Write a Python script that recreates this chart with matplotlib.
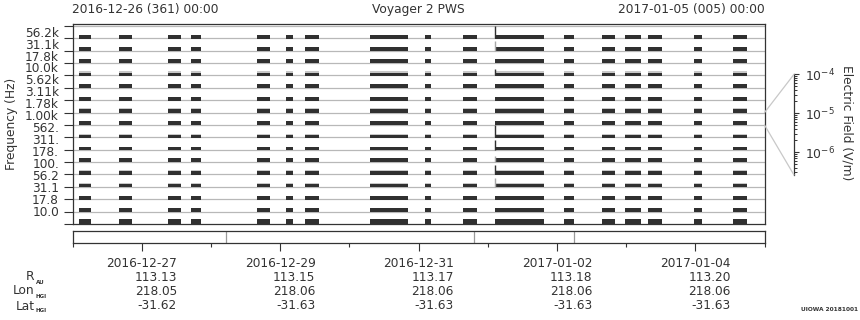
# Voyager 2 PWS survey plot, 2016-12-26 .. 2017-01-05
import numpy as np
import pandas as pd
import matplotlib
matplotlib.use("Agg")
import matplotlib.pyplot as plt
import matplotlib.dates as mdates
from matplotlib.patches import ConnectionPatch
from matplotlib.ticker import NullFormatter

# channel labels, top to bottom
freq_labels = ["56.2k", "31.1k", "17.8k", "10.0k", "5.62k", "3.11k", "1.78k", "1.00k",
               "562.", "311.", "178.", "100.", "56.2", "31.1", "17.8", "10.0"]

# data coverage intervals (UT)
seg_start = ["2016-12-26 02:15", "2016-12-26 16:08", "2016-12-27 09:07", "2016-12-27 17:05",
             "2016-12-28 15:59", "2016-12-29 02:02", "2016-12-29 08:38", "2016-12-30 07:10",
             "2016-12-31 02:15", "2016-12-31 15:26", "2017-01-01 02:31", "2017-01-02 02:28",
             "2017-01-02 15:39", "2017-01-02 23:38", "2017-01-03 07:36", "2017-01-03 23:34",
             "2017-01-04 13:05"]
seg_end = ["2016-12-26 06:24", "2016-12-26 20:38", "2016-12-27 13:38", "2016-12-27 20:34",
           "2016-12-28 20:30", "2016-12-29 04:28", "2016-12-29 13:31", "2016-12-30 20:21",
           "2016-12-31 04:21", "2016-12-31 20:17", "2017-01-01 19:31", "2017-01-02 05:56",
           "2017-01-02 20:10", "2017-01-03 05:11", "2017-01-03 12:27", "2017-01-04 02:21",
           "2017-01-04 17:56"]

# trace level per channel, as a fraction of the channel band (log E field)
level = [0.30, 0.30, 0.30, 0.24, 0.30, 0.30, 0.30, 0.32,
         0.16, 0.25, 0.30, 0.27, 0.25, 0.30, 0.30, 0.43]
# spiky, light part above the trace
fuzz = [0, 0, 0, 0.33, 0, 0, 0.38, 0, 0.30, 0, 0, 0.35, 0.30, 0, 0, 0]

# short burst at the start of the 2017-01-01 pass
burst_time = "2017-01-01 02:31"
burst_level = [1.0, 0.75, 0, 0.55, 0, 0, 0, 0, 1.0, 0.75, 0.5, 0.75, 0.7, 0, 0, 0]
burst_dark = [1, 0, 0, 1, 0, 0, 0, 0, 1, 1, 0, 1, 0, 0, 0, 0]

# instrument mode changes
mode_changes = ["2016-12-28 05:14", "2016-12-31 19:15", "2017-01-02 05:56"]

# ephemeris
eph_dates = ["2016-12-27", "2016-12-29", "2016-12-31", "2017-01-02", "2017-01-04"]
r_au = [113.13, 113.15, 113.17, 113.18, 113.20]
lon_hgi = [218.05, 218.06, 218.06, 218.06, 218.06]
lat_hgi = [-31.62, -31.63, -31.63, -31.63, -31.63]


def dnum(strings):
    return mdates.date2num(pd.to_datetime(strings).to_numpy())


txt = "#333333"
dark = "#303030"
W, H = 860, 320

t0 = mdates.date2num(pd.Timestamp("2016-12-26"))
t1 = mdates.date2num(pd.Timestamp("2017-01-05"))

fig = plt.figure(figsize=(8.6, 3.2), dpi=100)

# main panel
ax = fig.add_axes([72.5 / W, 1 - 224 / H, 692 / W, 200.5 / H])
nch = len(freq_labels)
ax.set_xlim(t0, t1)
ax.set_ylim(0, nch + 0.2)
ax.hlines(np.arange(1, nch + 1), t0, t1, color="#b8b8b8", lw=0.9, zorder=1)

starts = dnum(seg_start)
ends = dnum(seg_end)
spans = list(zip(starts, ends - starts))
for k in range(nch):
    base = nch - 1 - k
    if fuzz[k]:
        ax.broken_barh(spans, (base, fuzz[k]), facecolor="#c8c8c8", edgecolor="none", zorder=2)
    ax.broken_barh(spans, (base - 0.03, level[k] + 0.03), facecolor=dark,
                   edgecolor="none", zorder=3)

bt = dnum([burst_time])[0]
for k in range(nch):
    if burst_level[k]:
        base = nch - 1 - k
        ax.vlines(bt, base, base + burst_level[k], color=dark if burst_dark[k] else "#a8a8a8",
                  lw=1.0, zorder=4)

ax.set_xticks([])
ax.set_yticks(np.arange(0, nch + 1), minor=True)
lab_y = nch - 0.46 - 0.964 * np.arange(nch)
ax.set_yticks(lab_y, labels=freq_labels)
ax.tick_params(axis="y", which="major", length=0, pad=9.7, labelsize=8.7, labelcolor=txt)
ax.tick_params(axis="y", which="minor", length=6.5, width=0.8, color=txt)
for s in ax.spines.values():
    s.set_color(txt)
    s.set_linewidth(0.9)

# mode strip with ephemeris axis
sax = fig.add_axes([72.5 / W, 1 - 242.7 / H, 692 / W, 11.7 / H])
sax.set_xlim(t0, t1)
sax.set_ylim(0, 1)
sax.set_yticks([])
sax.vlines(dnum(mode_changes), 0, 1, color="#999999", lw=0.9)
labels = [f"{d}\n{r:.2f}\n{lo:.2f}\n{la:.2f}"
          for d, r, lo, la in zip(eph_dates, r_au, lon_hgi, lat_hgi)]
sax.set_xticks(np.arange(t0, t1 + 0.5, 2), minor=True)
sax.tick_params(axis="x", which="major", length=5.8, width=0.8, color=txt, pad=4.3,
                labelsize=8.7, labelcolor=txt)
sax.tick_params(axis="x", which="minor", length=2.9, width=0.8, color=txt)
sax.set_xticks(dnum(eph_dates), labels=labels, multialignment="right", linespacing=1.12)
for s in sax.spines.values():
    s.set_color(txt)
    s.set_linewidth(0.9)

# electric field scale for one channel
cax = fig.add_axes([794 / W, 1 - 175 / H, 0.0005, 100.7 / H])
cax.set_yscale("log")
cax.set_ylim(10 ** -6.59, 1e-4)
cax.set_xticks([])
cax.yaxis.tick_right()
cax.set_yticks([1e-6, 1e-5, 1e-4])
cax.yaxis.set_minor_formatter(NullFormatter())
cax.tick_params(axis="y", which="major", length=3.6, width=0.8, color=txt, pad=4,
                labelsize=8.9, labelcolor=txt)
cax.tick_params(axis="y", which="minor", length=2.2, width=0.7, color=txt)
for name in ["top", "bottom", "left"]:
    cax.spines[name].set_visible(False)
cax.spines["right"].set_color(txt)
cax.spines["right"].set_linewidth(0.9)

for ya, yb in [(nch - 7, 1), (nch - 8, 0)]:
    fig.add_artist(ConnectionPatch(xyA=(t1, ya), coordsA=ax.transData, xyB=(0, yb),
                                   coordsB=cax.transAxes, color="#c8c8c8", lw=0.9))

# texts
fig.text(72.5 / W, 1 - 9 / H, "2016-12-26 (361) 00:00", ha="left", va="center",
         fontsize=8.8, color=txt)
fig.text(418.5 / W, 1 - 10 / H, "Voyager 2 PWS", ha="center", va="center",
         fontsize=8.8, color=txt)
fig.text(764.5 / W, 1 - 9 / H, "2017-01-05 (005) 00:00", ha="right", va="center",
         fontsize=8.8, color=txt)
fig.text(12 / W, 1 - 124 / H, "Frequency (Hz)", rotation=90, ha="center", va="center",
         fontsize=8.8, color=txt)
fig.text(847 / W, 1 - 123 / H, "Electric Field (V/m)", rotation=270, ha="center",
         va="center", fontsize=8.8, color=txt)

for name, sub, yp in [("R", "AU", 277), ("Lon", "HGI", 291), ("Lat", "HGI", 306)]:
    fig.text(34.5 / W, 1 - yp / H, name, ha="right", va="center", fontsize=8.7, color=txt)
    fig.text(35.5 / W, 1 - (yp + 5) / H, sub, ha="left", va="center", fontsize=4,
             fontweight="bold", color=txt)

fig.text(0.998, 1 - 309.5 / H, "UIOWA 20181001", ha="right", va="center", fontsize=4.2,
         fontweight="bold", color=txt)

fig.savefig("out.png", dpi=100)
